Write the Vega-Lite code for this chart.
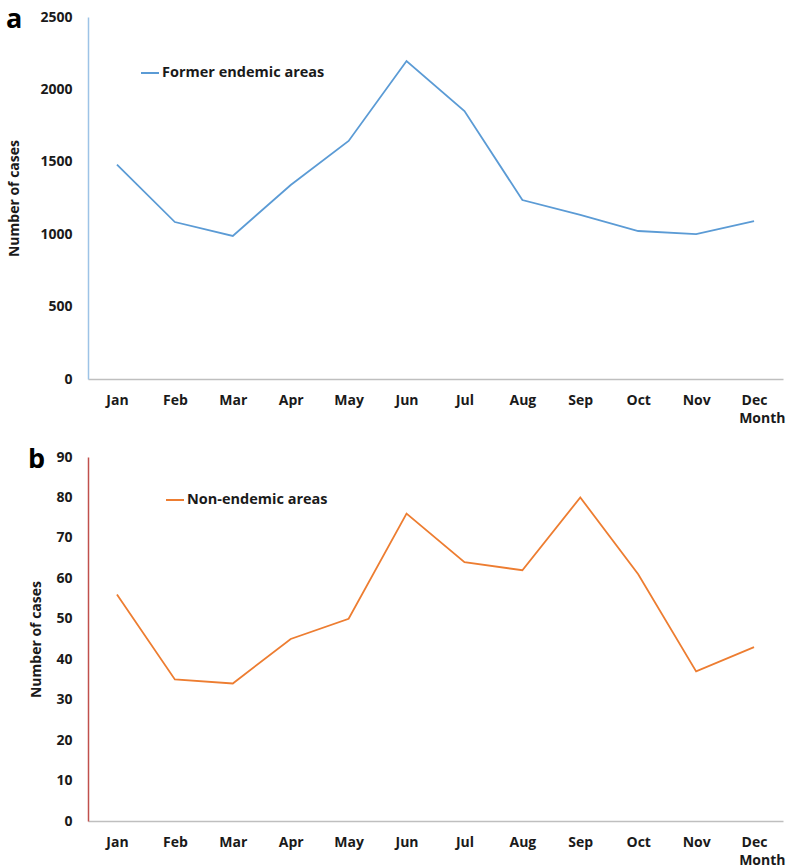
{
  "$schema": "https://vega.github.io/schema/vega-lite/v6.json",
  "padding": {"left": 5, "top": 6, "right": 4, "bottom": 2},
  "background": "white",
  "spacing": 21,
  "resolve": {"scale": {"color": "independent"}, "legend": {"color": "independent"}},
  "config": {
    "font": "Open Sans",
    "view": {"stroke": null},
    "axis": {
      "labelFont": "Open Sans", "labelFontWeight": "bold", "labelFontSize": 14, "labelColor": "#1a1a1a",
      "titleFont": "Open Sans", "titleFontWeight": "bold", "titleFontSize": 14, "titleColor": "#1a1a1a",
      "grid": false, "ticks": false
    },
    "legend": {
      "labelFont": "Open Sans", "labelFontWeight": "bold", "labelFontSize": 14.5, "labelColor": "#1a1a1a", "labelLimit": 400,
      "symbolType": "stroke", "symbolStrokeWidth": 2, "symbolSize": 324, "labelOffset": 2, "title": null
    },
    "title": {"font": "Open Sans", "fontWeight": "bold", "fontSize": 27, "anchor": "start", "frame": "bounds", "color": "#000000", "offset": -4}
  },
  "datasets": {
    "a": [
      {"month": "Jan", "cases": 1480, "series": "Former endemic areas"},
      {"month": "Feb", "cases": 1084, "series": "Former endemic areas"},
      {"month": "Mar", "cases": 988, "series": "Former endemic areas"},
      {"month": "Apr", "cases": 1340, "series": "Former endemic areas"},
      {"month": "May", "cases": 1644, "series": "Former endemic areas"},
      {"month": "Jun", "cases": 2196, "series": "Former endemic areas"},
      {"month": "Jul", "cases": 1851, "series": "Former endemic areas"},
      {"month": "Aug", "cases": 1236, "series": "Former endemic areas"},
      {"month": "Sep", "cases": 1133, "series": "Former endemic areas"},
      {"month": "Oct", "cases": 1022, "series": "Former endemic areas"},
      {"month": "Nov", "cases": 1001, "series": "Former endemic areas"},
      {"month": "Dec", "cases": 1091, "series": "Former endemic areas"}
    ],
    "b": [
      {"month": "Jan", "cases": 56, "series": "Non-endemic areas"},
      {"month": "Feb", "cases": 35, "series": "Non-endemic areas"},
      {"month": "Mar", "cases": 34, "series": "Non-endemic areas"},
      {"month": "Apr", "cases": 45, "series": "Non-endemic areas"},
      {"month": "May", "cases": 50, "series": "Non-endemic areas"},
      {"month": "Jun", "cases": 76, "series": "Non-endemic areas"},
      {"month": "Jul", "cases": 64, "series": "Non-endemic areas"},
      {"month": "Aug", "cases": 62, "series": "Non-endemic areas"},
      {"month": "Sep", "cases": 80, "series": "Non-endemic areas"},
      {"month": "Oct", "cases": 61, "series": "Non-endemic areas"},
      {"month": "Nov", "cases": 37, "series": "Non-endemic areas"},
      {"month": "Dec", "cases": 43, "series": "Non-endemic areas"}
    ]
  },
  "vconcat": [
    {
      "data": {"name": "a"},
      "width": 695,
      "height": 362,
      "title": {"text": "a", "dy": 20, "dx": -2},
      "mark": {"type": "line", "strokeWidth": 1.8},
      "encoding": {
        "x": {"field": "month", "type": "ordinal", "sort": null, "scale": {"type": "point", "padding": 0.5},
              "axis": {"title": "Month", "labelAngle": 0, "labelPadding": 14, "titleAnchor": "end", "titlePadding": 4, "titleAlign": "right", "titleX": 697, "domainColor": "#bfbfbf", "domainWidth": 1.5}},
        "y": {"field": "cases", "type": "quantitative", "scale": {"domain": [0, 2500]},
              "axis": {"title": "Number of cases", "format": "d", "values": [0, 500, 1000, 1500, 2000, 2500], "labelPadding": 16, "titlePadding": 18, "domainColor": "#9dc3e6", "domainWidth": 1.5}},
        "color": {"field": "series", "type": "nominal", "scale": {"range": ["#5b9bd5"]},
                  "legend": {"orient": "none", "legendX": 52, "legendY": 46}}
      }
    },
    {
      "data": {"name": "b"},
      "width": 695,
      "height": 364,
      "title": {"text": "b", "dy": 20, "dx": -2},
      "mark": {"type": "line", "strokeWidth": 1.8},
      "encoding": {
        "x": {"field": "month", "type": "ordinal", "sort": null, "scale": {"type": "point", "padding": 0.5},
              "axis": {"title": "Month", "labelAngle": 0, "labelPadding": 14, "titleAnchor": "end", "titlePadding": 4, "titleAlign": "right", "titleX": 697, "domainColor": "#bfbfbf", "domainWidth": 1.5}},
        "y": {"field": "cases", "type": "quantitative", "scale": {"domain": [0, 90]},
              "axis": {"title": "Number of cases", "format": "d", "values": [0, 10, 20, 30, 40, 50, 60, 70, 80, 90], "labelPadding": 16, "titlePadding": 12, "domainColor": "#c0504d", "domainWidth": 1.5}},
        "color": {"field": "series", "type": "nominal", "scale": {"range": ["#ed7d31"]},
                  "legend": {"orient": "none", "legendX": 77, "legendY": 33}}
      }
    }
  ]
}
